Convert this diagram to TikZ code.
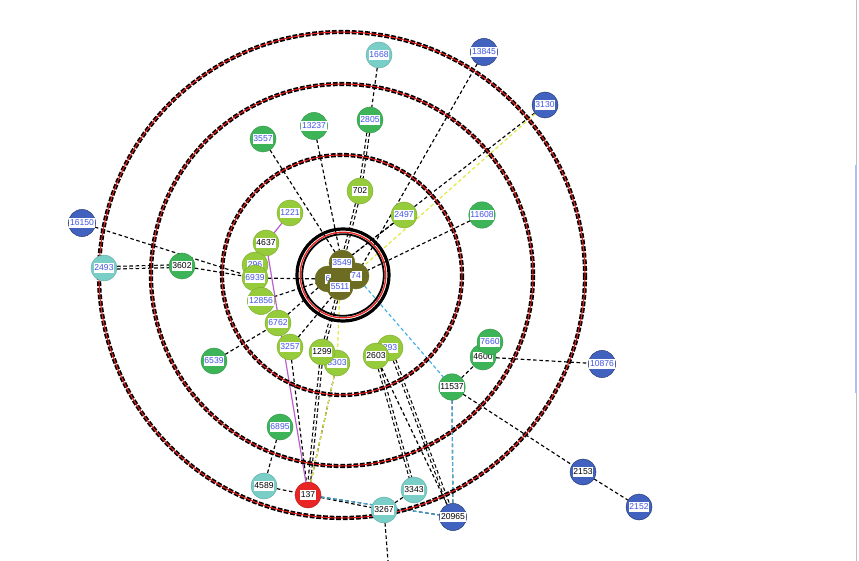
\documentclass[tikz,border=0pt]{standalone}
\usepackage{fontspec}
\setmainfont{Liberation Sans}
\usepackage{tkz-graph}
\usetikzlibrary{backgrounds}

\definecolor{cOlive}{RGB}{108,108,34}
\definecolor{cLime}{RGB}{150,204,60}
\definecolor{cGreen}{RGB}{62,180,88}
\definecolor{cTeal}{RGB}{122,206,200}
\definecolor{cBlue}{RGB}{66,98,192}
\definecolor{cRed}{RGB}{232,36,36}
\definecolor{cLabel}{RGB}{64,84,226}
\definecolor{cYellow}{RGB}{222,232,60}
\definecolor{cCyan}{RGB}{64,176,228}
\definecolor{cPurple}{RGB}{186,96,204}
\definecolor{cRing}{RGB}{236,30,30}

\DeclareRobustCommand{\bl}[1]{{\setlength{\fboxsep}{0.8pt}\colorbox{white}{\rule[-1.3pt]{0pt}{7.6pt}\textcolor{cLabel}{#1}}}}
\DeclareRobustCommand{\bk}[1]{{\setlength{\fboxsep}{0.8pt}\colorbox{white}{\rule[-1.3pt]{0pt}{7.6pt}#1}}}

\begin{document}
\begin{tikzpicture}[x=1pt, y=-1pt,
    VertexStyle/.style={shape=circle, minimum size=26pt, inner sep=0pt, line width=0.5pt,
      font=\fontsize{8.6}{9}\selectfont},
    EdgeStyle/.style={draw=black, line width=1.15pt, dash pattern=on 3.6pt off 2.6pt},
    ring/.style={draw=black, line width=4.2pt, dash pattern=on 4.8pt off 1.8pt},
    ringline/.style={draw=cRing, line width=1pt}]
\useasboundingbox (0,0) rectangle (859,561);

% centre
\begin{scope}[VertexStyle/.append style={fill=cOlive, draw=cOlive}]
  \Vertex[L=\bl{6}, x=328, y=279]{c6}
  \Vertex[L=\bl{74}, x=356, y=276]{c74}
  \Vertex[L=\bl{3549}, x=342, y=263]{c3549}
  \Vertex[L=\bl{5511}, x=340, y=287]{c5511}
\end{scope}

% first ring
\begin{scope}[VertexStyle/.append style={fill=cLime, draw=cLime!85!black}]
  \Vertex[L=\bl{1221}, x=290, y=213]{v1221}
  \Vertex[L=\bk{4637}, x=266, y=243]{v4637}
  \Vertex[L=\bk{702}, x=360, y=191]{v702}
  \Vertex[L=\bl{2497}, x=404, y=215]{v2497}
  \Vertex[L=\bl{296}, x=255, y=265]{v296}
  \Vertex[L=\bl{6939}, x=255, y=278]{v6939}
  \Vertex[L=\bl{12856}, x=261, y=301]{v12856}
  \Vertex[L=\bl{6762}, x=278, y=323]{v6762}
  \Vertex[L=\bl{3257}, x=290, y=347]{v3257}
  \Vertex[L=\bl{3303}, x=337, y=363]{v3303}
  \Vertex[L=\bk{1299}, x=322, y=352]{v1299}
  \Vertex[L=\bl{293}, x=390, y=348]{v293}
  \Vertex[L=\bk{2603}, x=376, y=356]{v2603}
\end{scope}

% second ring
\begin{scope}[VertexStyle/.append style={fill=cGreen, draw=cGreen!85!black}]
  \Vertex[L=\bl{3557}, x=263, y=139]{v3557}
  \Vertex[L=\bl{13237}, x=314, y=126]{v13237}
  \Vertex[L=\bl{2805}, x=370, y=120]{v2805}
  \Vertex[L=\bl{11608}, x=482, y=215]{v11608}
  \Vertex[L=\bk{3602}, x=182, y=266]{v3602}
  \Vertex[L=\bl{6539}, x=214, y=361]{v6539}
  \Vertex[L=\bk{4600}, x=483, y=357]{v4600}
  \Vertex[L=\bl{7660}, x=490, y=342]{v7660}
  \Vertex[L=\bk{11537}, x=452, y=387]{v11537}
  \Vertex[L=\bl{6895}, x=280, y=427]{v6895}
\end{scope}

% third ring
\begin{scope}[VertexStyle/.append style={fill=cTeal, draw=cTeal!85!black}]
  \Vertex[L=\bl{1668}, x=379, y=55]{v1668}
  \Vertex[L=\bl{2493}, x=104, y=268]{v2493}
  \Vertex[L=\bk{4589}, x=264, y=486]{v4589}
  \Vertex[L=\bk{3343}, x=414, y=490]{v3343}
  \Vertex[L=\bk{3267}, x=384, y=510]{v3267}
\end{scope}

% outside
\begin{scope}[VertexStyle/.append style={fill=cBlue, draw=cBlue!60!black}]
  \Vertex[L=\bl{13845}, x=484, y=52]{v13845}
  \Vertex[L=\bl{3130}, x=545, y=105]{v3130}
  \Vertex[L=\bl{16150}, x=82, y=223]{v16150}
  \Vertex[L=\bl{10876}, x=602, y=364]{v10876}
  \Vertex[L=\bk{2153}, x=583, y=472]{v2153}
  \Vertex[L=\bl{2152}, x=639, y=507]{v2152}
  \Vertex[L=\bk{20965}, x=453, y=517]{v20965}
\end{scope}

\begin{scope}[VertexStyle/.append style={fill=cRed, draw=cRed!80!black}]
  \Vertex[L=\bk{137}, x=308, y=495]{v137}
\end{scope}

\coordinate (vbot) at (388,561);

\begin{scope}[on background layer]
  \Edge(v1668)(v2805)
  \Edge(v13845)(c74)
  \Edge(v3130)(c3549)
  \Edge(v3557)(c3549)
  \Edge(v13237)(c3549)
  \Edge(v2497)(c3549)
  \Edge(v11608)(c74)
  \Edge(v16150)(v6939)
  \Edge(v3602)(v6939)
  \Edge(v6939)(c6)
  \Edge(v12856)(c6)
  \Edge(v6762)(c6)
  \Edge(v3257)(c5511)
  \Edge(v6539)(v6762)
  \Edge(v3257)(v137)
  \Edge(v3303)(v137)
  \Edge(v4600)(v10876)
  \Edge(v11537)(v4600)
  \Edge(v11537)(v2153)
  \Edge(v2153)(v2152)
  \Edge(v11537)(v20965)
  \Edge(v6895)(v4589)
  \Edge(v4589)(v137)
  \Edge(v137)(v3267)
  \Edge(v137)(v20965)
  \Edge(v3267)(v3343)
  \Edge(v3267)(vbot)
  \Edge(v2603)(v20965)
  \begin{scope}[EdgeStyle/.append style={double=white, double distance=1.5pt}]
    \Edge(v2493)(v3602)
    \Edge(v2805)(v702)
    \Edge(v702)(c3549)
    \Edge(v1299)(c5511)
    \Edge(v1299)(v137)
    \Edge(v2603)(v3343)
    \Edge(v293)(v20965)
  \end{scope}
  \begin{scope}[EdgeStyle/.append style={draw=cYellow}]
    \Edge(v3130)(c5511)
    \Edge(c5511)(v3303)
    \Edge(v3303)(v137)
  \end{scope}
  \begin{scope}[EdgeStyle/.append style={draw=cCyan}]
    \Edge(c74)(v11537)
    \Edge(v11537)(v20965)
    \Edge(v137)(v20965)
  \end{scope}
  \begin{scope}[EdgeStyle/.style={draw=cPurple, line width=1.2pt}]
    \Edge(v1221)(v4637)
    \Edge(v4637)(v137)
  \end{scope}

  % rings
  \foreach \r in {120,191,243}{
    \draw[ring] (342,275) circle[radius=\r];
    \draw[ringline] (342,275) circle[radius=\r];
  }
  \draw[black, line width=3.2pt] (343,275) circle[radius=46];
  \draw[cRing, line width=1.3pt] (343,275) circle[radius=42.8];
  \draw[black, line width=1.8pt] (343,275) circle[radius=40.8];

  \draw[gray!50, line width=1pt] (856,0) -- (856,561);
  \draw[cLabel!40, line width=2pt] (856,165) -- (856,393);
\end{scope}
\end{tikzpicture}
\end{document}
